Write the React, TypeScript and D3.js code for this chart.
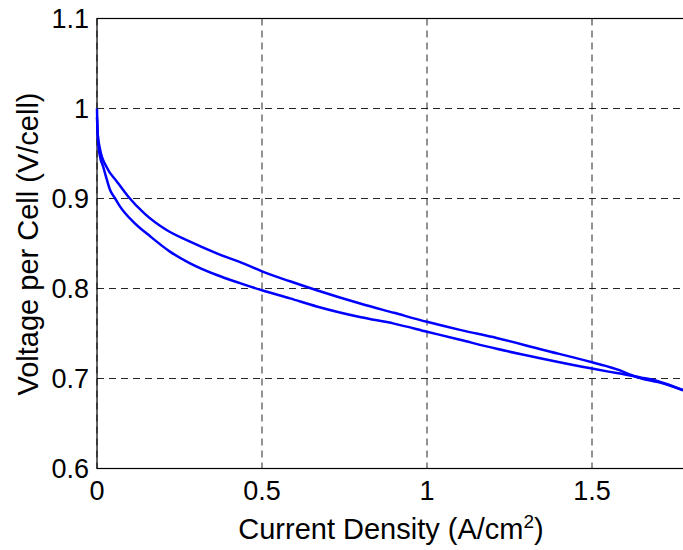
import React from "react";
import * as d3 from "d3";

const upperI = [0, 0.002, 0.009, 0.029, 0.06, 0.095, 0.145, 0.211, 0.282, 0.363, 0.443, 0.5, 0.585, 0.666, 0.8, 0.9, 1.0, 1.1, 1.211, 1.35, 1.5, 1.585, 1.61, 1.65, 1.7, 1.776];
const upperV = [1.0, 0.972, 0.955, 0.935, 0.919, 0.902, 0.883, 0.865, 0.852, 0.839, 0.828, 0.819, 0.808, 0.798, 0.783, 0.773, 0.763, 0.754, 0.745, 0.732, 0.718, 0.709, 0.705, 0.7, 0.696, 0.687];
const lowerI = [0, 0.004, 0.009, 0.019, 0.029, 0.039, 0.055, 0.07, 0.11, 0.161, 0.221, 0.282, 0.363, 0.433, 0.5, 0.585, 0.666, 0.8, 0.9, 1.0, 1.1, 1.211, 1.35, 1.5, 1.575, 1.65, 1.7, 1.776];
const lowerV = [0.99, 0.96, 0.947, 0.935, 0.922, 0.91, 0.9, 0.891, 0.874, 0.858, 0.841, 0.828, 0.815, 0.806, 0.798, 0.789, 0.78, 0.768, 0.761, 0.752, 0.743, 0.733, 0.722, 0.711, 0.706, 0.701, 0.697, 0.687];

const xTicks = [0, 0.5, 1, 1.5];
const xTickLabels = ["0", "0.5", "1", "1.5"];
const yTicks = [0.6, 0.7, 0.8, 0.9, 1.0, 1.1];
const yTickLabels = ["0.6", "0.7", "0.8", "0.9", "1", "1.1"];

const W = 683;
const H = 550;
const L = 97;
const T = 18.5;
const B = 468.5;
const xMax = 1.8;

export default function App() {
  const x = d3.scaleLinear().domain([0, xMax]).range([L, L + xMax * 330]);
  const y = d3.scaleLinear().domain([0.6, 1.1]).range([B, T]);
  const line = d3
    .line<[number, number]>()
    .x((d) => x(d[0]))
    .y((d) => y(d[1]))
    .curve(d3.curveMonotoneX);
  const up: [number, number][] = upperI.map((v, i) => [v, upperV[i]]);
  const lo: [number, number][] = lowerI.map((v, i) => [v, lowerV[i]]);
  const R = x(xMax);
  const font = "Liberation Sans, Arial, sans-serif";
  return (
    <svg
      width={W}
      height={H}
      style={{ position: "absolute", left: 0, top: 0, background: "#fff" }}
      fontFamily={font}
    >
      <rect x={0} y={0} width={W} height={H} fill="#fff" />
      {yTicks.map((t) => (
        <line key={"gy" + t} x1={L} x2={R} y1={y(t)} y2={y(t)} stroke="#000" strokeWidth={1} strokeDasharray="7,5" opacity={0.85} />
      ))}
      {xTicks.map((t) => (
        <line key={"gx" + t} x1={x(t)} x2={x(t)} y1={T} y2={B} stroke="#000" strokeWidth={1} strokeDasharray="7,5" opacity={0.85} />
      ))}
      <rect x={L} y={T} width={R - L} height={B - T} fill="none" stroke="#000" strokeWidth={1.2} />
      <path d={line(lo) || ""} fill="none" stroke="#0000ff" strokeWidth={2.5} />
      <path d={line(up) || ""} fill="none" stroke="#0000ff" strokeWidth={2.5} />
      {yTicks.map((t, i) => (
        <text key={"ty" + t} x={L - 8} y={y(t)} dy="0.36em" textAnchor="end" fontSize={27} fill="#000">
          {yTickLabels[i]}
        </text>
      ))}
      {xTicks.map((t, i) => (
        <text key={"tx" + t} x={x(t)} y={B + 31} textAnchor="middle" fontSize={27} fill="#000">
          {xTickLabels[i]}
        </text>
      ))}
      <text x={391} y={539} textAnchor="middle" fontSize={29} fill="#000">
        Current Density (A/cm<tspan dy={-11} fontSize={19}>2</tspan><tspan dy={11}>)</tspan>
      </text>
      <text transform={`translate(38,244) rotate(-90)`} textAnchor="middle" fontSize={29} fill="#000">
        Voltage per Cell (V/cell)
      </text>
    </svg>
  );
}
